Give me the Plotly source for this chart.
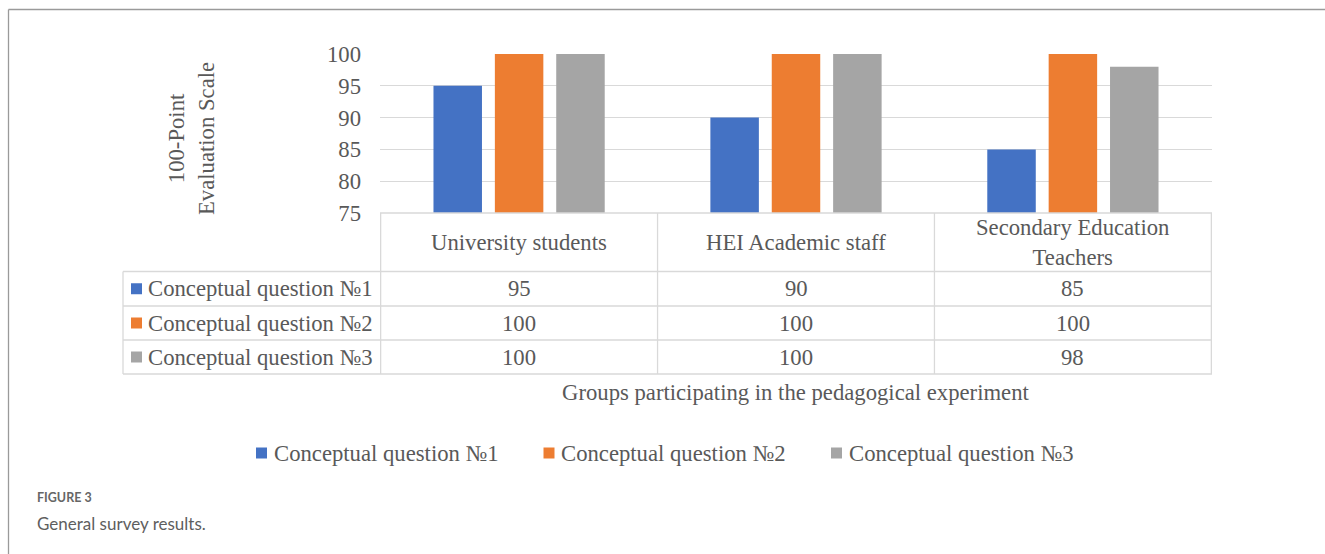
import plotly.graph_objects as go

# ---------------- data ----------------
categories = ["University students", "HEI Academic staff", "Secondary Education Teachers"]
header_labels = ["University students", "HEI Academic staff", "Secondary Education<br>Teachers"]
series_names = ["Conceptual question №1", "Conceptual question №2", "Conceptual question №3"]
q1 = [95, 90, 85]
q2 = [100, 100, 100]
q3 = [100, 100, 98]
series_values = [q1, q2, q3]
colors = ["#4472C4", "#ED7D31", "#A5A5A5"]
y_ticks = [75, 80, 85, 90, 95, 100]
y_title = "100-Point<br>Evaluation Scale"
x_title = "Groups participating in the pedagogical experiment"
fig_label = "FIGURE 3"
fig_caption = "General survey results."

# ---------------- layout geometry (pixels) ----------------
W, H = 1325, 554
L, R, T, B = 380, 1212, 54, 213
TXT = "#595959"
GRID = "#D9D9D9"
SERIF = "Liberation Serif, Times New Roman, serif"
FS = 22.7


def px(x):
    return (x - L) / (R - L)


def py(y):
    return (B - y) / (B - T)


fig = go.Figure()
for name, vals, col in zip(series_names, series_values, colors):
    fig.add_trace(go.Bar(x=categories, y=vals, name=name,
                         marker=dict(color=col, line=dict(width=0)),
                         showlegend=False))

shapes = []
annotations = []

# table geometry
row_edges = [271.5, 306, 340, 374]
label_left = 123
row_centers = [(row_edges[i] + row_edges[i + 1]) / 2 for i in range(3)]
header_center = (B + row_edges[0]) / 2

line = dict(color=GRID, width=1.3)
# horizontal lines
shapes.append(dict(type="line", xref="paper", yref="paper", x0=0, x1=1, y0=py(B), y1=py(B), line=line))
for e in row_edges:
    shapes.append(dict(type="line", xref="paper", yref="paper", x0=px(label_left), x1=1,
                       y0=py(e), y1=py(e), line=line))
# vertical lines
shapes.append(dict(type="line", xref="paper", yref="paper", x0=px(label_left), x1=px(label_left),
                   y0=py(row_edges[0]), y1=py(row_edges[-1]), line=line))
for k in range(len(categories) + 1):
    shapes.append(dict(type="line", xref="x", yref="paper", x0=k - 0.5, x1=k - 0.5,
                       y0=py(B), y1=py(row_edges[-1]), line=line))

# header labels
for cat, lab in zip(categories, header_labels):
    annotations.append(dict(x=cat, xref="x", y=py(header_center), yref="paper", text=lab,
                            showarrow=False, xanchor="center", yanchor="middle",
                            font=dict(family=SERIF, size=FS, color=TXT)))
# rows
for i, (name, vals, col) in enumerate(zip(series_names, series_values, colors)):
    cy = row_centers[i]
    shapes.append(dict(type="rect", xref="paper", yref="paper", x0=px(131), x1=px(142),
                       y0=py(cy + 5.5), y1=py(cy - 5.5), fillcolor=col, line=dict(width=0)))
    annotations.append(dict(x=px(145.5), xref="paper", y=py(cy), yref="paper", text=name,
                            showarrow=False, xanchor="left", yanchor="middle",
                            font=dict(family=SERIF, size=FS, color=TXT)))
    for cat, v in zip(categories, vals):
        annotations.append(dict(x=cat, xref="x", y=py(cy), yref="paper", text=str(v),
                                showarrow=False, xanchor="center", yanchor="middle",
                                font=dict(family=SERIF, size=FS, color=TXT)))

# x title
annotations.append(dict(x=0.5, xref="paper", y=py(392), yref="paper", text=x_title,
                        showarrow=False, xanchor="center", yanchor="middle",
                        font=dict(family=SERIF, size=FS, color=TXT)))
# y title
annotations.append(dict(x=px(191), xref="paper", y=py(139), yref="paper", text=y_title,
                        textangle=-90, showarrow=False, xanchor="center", yanchor="middle",
                        font=dict(family=SERIF, size=FS, color=TXT)))

# bottom legend
legend_x = [256, 543.5, 831]
for name, col, lx in zip(series_names, colors, legend_x):
    shapes.append(dict(type="rect", xref="paper", yref="paper", x0=px(lx), x1=px(lx + 11),
                       y0=py(458.5), y1=py(447.5), fillcolor=col, line=dict(width=0)))
    annotations.append(dict(x=px(lx + 15.5), xref="paper", y=py(453), yref="paper", text=name,
                            showarrow=False, xanchor="left", yanchor="middle",
                            font=dict(family=SERIF, size=FS, color=TXT)))

# figure frame
frame = dict(color="#9A9A9A", width=1.3)
shapes.append(dict(type="line", xref="paper", yref="paper", x0=px(8.5), x1=px(1335),
                   y0=py(9.5), y1=py(9.5), line=frame))
shapes.append(dict(type="line", xref="paper", yref="paper", x0=px(8.5), x1=px(8.5),
                   y0=py(9.5), y1=py(565), line=frame))

# caption
annotations.append(dict(x=px(35), xref="paper", y=py(497.5), yref="paper", text=fig_label,
                        showarrow=False, xanchor="left", yanchor="middle",
                        font=dict(family="Lato, Open Sans, sans-serif", size=12.5, color="#666666", weight=700)))
annotations.append(dict(x=px(35), xref="paper", y=py(523), yref="paper", text=fig_caption,
                        showarrow=False, xanchor="left", yanchor="middle",
                        font=dict(family="Lato, Open Sans, sans-serif", size=17, color="#5E5E5E")))

fig.update_layout(
    width=W, height=H,
    margin=dict(l=L, r=W - R, t=T, b=H - B, pad=0),
    paper_bgcolor="white", plot_bgcolor="white",
    barmode="group", bargap=0.335, bargroupgap=0.21,
    shapes=shapes, annotations=annotations,
    font=dict(family=SERIF, size=FS, color=TXT),
    xaxis=dict(showticklabels=False, showgrid=False, zeroline=False, showline=False, ticks=""),
    yaxis=dict(range=[75, 100], tickvals=y_ticks, showgrid=True, gridcolor=GRID, gridwidth=1.3,
               zeroline=False, showline=False, ticks="", ticklabelstandoff=18,
               tickfont=dict(family=SERIF, size=FS, color=TXT)),
)

fig.write_html("out.html")
